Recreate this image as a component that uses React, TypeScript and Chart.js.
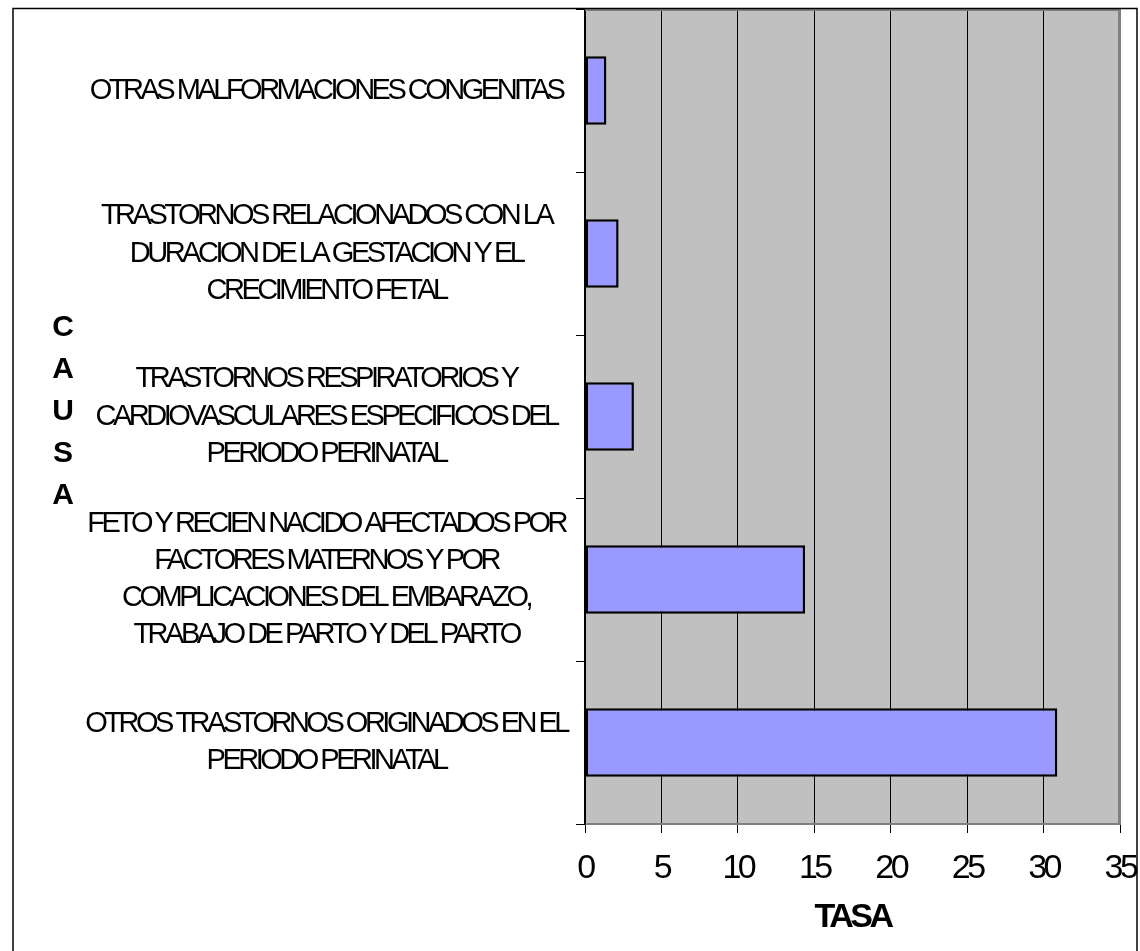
import { useEffect, useRef } from 'react';
import { Chart, registerables } from 'chart.js';

Chart.register(...registerables);

const CATEGORIES: (string | string[])[] = [
  'OTRAS MALFORMACIONES CONGENITAS',
  ['TRASTORNOS RELACIONADOS CON LA', 'DURACION DE LA GESTACION Y EL', 'CRECIMIENTO FETAL'],
  ['TRASTORNOS RESPIRATORIOS Y', 'CARDIOVASCULARES ESPECIFICOS DEL', 'PERIODO PERINATAL'],
  ['FETO Y RECIEN NACIDO AFECTADOS POR', 'FACTORES MATERNOS Y POR', 'COMPLICACIONES DEL EMBARAZO,', 'TRABAJO DE PARTO Y DEL PARTO'],
  ['OTROS TRASTORNOS ORIGINADOS EN EL', 'PERIODO PERINATAL'],
];
const TASA_VALUES: number[] = [1.4, 2.2, 3.2, 14.4, 30.9];
const X_MIN = 0;
const X_MAX = 35;
const X_STEP = 5;
const X_TITLE = 'TASA';
const Y_TITLE = 'CAUSA';

const FONT = "'Liberation Sans', Arial, Helvetica, sans-serif";
const SPACING = '-3.5px';

const decorPlugin = {
  id: 'decor',
  beforeLayout(chart: any) {
    chart.ctx.letterSpacing = SPACING;
  },
  beforeDraw(chart: any) {
    const ctx = chart.ctx;
    const { left, top, right, bottom } = chart.chartArea;
    ctx.letterSpacing = SPACING;
    ctx.save();
    ctx.fillStyle = '#ffffff';
    ctx.fillRect(0, 0, chart.width, chart.height);
    ctx.fillStyle = '#C0C0C0';
    ctx.fillRect(left, top, right - left, bottom - top);
    ctx.restore();
  },
  afterDatasetsDraw(chart: any) {
    const ctx = chart.ctx;
    const { left, top, right, bottom } = chart.chartArea;
    ctx.save();
    ctx.strokeStyle = '#808080';
    ctx.lineWidth = 2;
    ctx.beginPath();
    ctx.moveTo(left, top + 1);
    ctx.lineTo(right - 1, top + 1);
    ctx.lineTo(right - 1, bottom);
    ctx.stroke();
    ctx.restore();
  },
  afterDraw(chart: any) {
    const ctx = chart.ctx;
    const { top, bottom } = chart.chartArea;
    ctx.save();
    ctx.fillStyle = '#ffffff';
    ctx.fillRect(1138, 0, chart.width - 1138, chart.height);
    ctx.strokeStyle = '#000000';
    ctx.lineWidth = 1.5;
    ctx.beginPath();
    ctx.moveTo(13, chart.height);
    ctx.lineTo(13, 8.5);
    ctx.lineTo(1137, 8.5);
    ctx.lineTo(1137, chart.height);
    ctx.stroke();
    ctx.letterSpacing = '0px';
    ctx.fillStyle = '#000000';
    ctx.font = `bold 30px ${FONT}`;
    ctx.textAlign = 'center';
    ctx.textBaseline = 'middle';
    const cy = (top + bottom) / 2 - 5;
    const letters = Y_TITLE.split('');
    const step = 42;
    letters.forEach((ch, i) => {
      ctx.fillText(ch, 63, cy + (i - (letters.length - 1) / 2) * step);
    });
    ctx.restore();
  },
};

export default function App() {
  const canvasRef = useRef<HTMLCanvasElement | null>(null);

  useEffect(() => {
    if (!canvasRef.current) return;
    const chart = new Chart(canvasRef.current, {
      type: 'bar',
      data: {
        labels: CATEGORIES,
        datasets: [
          {
            data: TASA_VALUES,
            backgroundColor: '#9999FF',
            borderColor: '#000000',
            borderWidth: 2.5,
            borderSkipped: false,
            categoryPercentage: 1,
            barPercentage: 0.42,
          },
        ],
      },
      options: {
        indexAxis: 'y',
        animation: false,
        responsive: false,
        devicePixelRatio: 1,
        layout: { padding: { top: 9, right: 20, bottom: 0, left: 0 } },
        plugins: {
          legend: { display: false },
          tooltip: { enabled: false },
          title: { display: false },
        },
        scales: {
          x: {
            type: 'linear',
            position: 'bottom',
            min: X_MIN,
            max: X_MAX,
            ticks: {
              stepSize: X_STEP,
              color: '#000000',
              padding: 15,
              font: { family: FONT, size: 34, lineHeight: 1.2 },
            },
            grid: {
              color: (c: any) => (c.tick && c.tick.value === X_MAX ? '#808080' : '#000000'),
              lineWidth: 1,
              tickLength: 9,
              tickColor: '#000000',
              drawTicks: true,
            },
            border: { color: '#808080', width: 2 },
            title: {
              display: true,
              text: X_TITLE,
              color: '#000000',
              font: { family: FONT, size: 34, weight: 'bold', lineHeight: 1.2 },
              padding: { top: 0, bottom: 13 },
            },
            afterFit: (s: any) => {
              s.height = 127;
              s.paddingLeft = 0;
              s.paddingRight = 0;
            },
          },
          y: {
            type: 'category',
            position: 'left',
            offset: true,
            ticks: {
              color: '#000000',
              crossAlign: 'center',
              padding: 9,
              autoSkip: false,
              font: { family: FONT, size: 29, lineHeight: 1.28 },
            },
            grid: {
              offset: true,
              drawOnChartArea: false,
              drawTicks: true,
              tickLength: 9,
              color: '#000000',
              lineWidth: 1,
            },
            border: { color: '#000000', width: 1.5 },
            afterFit: (s: any) => {
              s.width = 585;
              s.paddingTop = 0;
              s.paddingBottom = 0;
            },
          },
        },
      },
      plugins: [decorPlugin],
    } as any);
    return () => chart.destroy();
  }, []);

  return (
    <div
      style={{
        position: 'fixed',
        left: 0,
        top: 0,
        width: 1140,
        height: 951,
        overflow: 'hidden',
        background: '#ffffff',
      }}
    >
      <canvas ref={canvasRef} width={1140} height={951} style={{ display: 'block', width: 1140, height: 951 }} />
    </div>
  );
}
